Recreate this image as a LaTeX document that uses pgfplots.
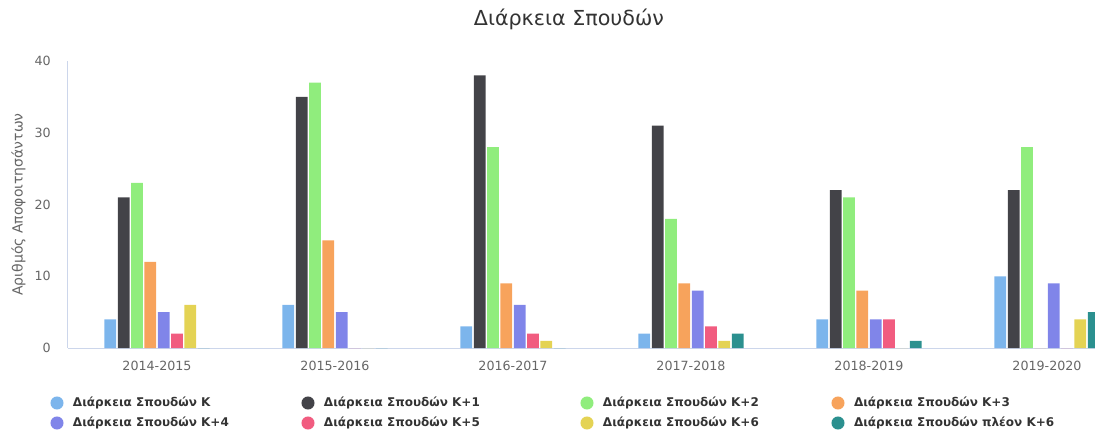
\documentclass[border=0pt]{standalone}
\usepackage{pgfplots}
\pgfplotsset{compat=1.18}
\usepackage{pgfplotstable}
\usepackage{fontspec}
\setmainfont{DejaVu Sans}
\definecolor{c1}{HTML}{7CB5EC}
\definecolor{c2}{HTML}{434348}
\definecolor{c3}{HTML}{90ED7D}
\definecolor{c4}{HTML}{F7A35C}
\definecolor{c5}{HTML}{8085E9}
\definecolor{c6}{HTML}{F15C80}
\definecolor{c7}{HTML}{E4D354}
\definecolor{c8}{HTML}{2B908F}
\definecolor{axisc}{HTML}{CCD6EB}
\definecolor{tthree}{HTML}{333333}
\definecolor{tsix}{HTML}{666666}

\pgfplotstableread{
x K K1 K2 K3 K4 K5 K6 K7
0 4 21 23 12 5 2 6 0
1 6 35 37 15 5 0 0 0
2 3 38 28 9 6 2 1 0
3 2 31 18 9 8 3 1 2
4 4 22 21 8 4 4 0 1
5 10 22 28 0 9 0 4 5
}\datatable

\pgfplotsset{/pgfplots/ybar legend/.style={/pgfplots/legend image code/.code={%
  \fill (4.9pt,0pt) circle (4.9pt);
  \path[fill=none, draw=none] (0pt,-7.5pt) rectangle (16.9pt,7.5pt);}}}

\begin{document}
\begin{tikzpicture}
\begin{axis}[
  at={(51pt,63pt)}, anchor=south west,
  scale only axis, width=801pt, height=215.25pt,
  xmin=-0.5, xmax=5.5, ymin=0, ymax=40,
  ybar=1.2pt, bar width=8.8pt,
  xtick={0,1,2,3,4,5},
  xticklabels={2014-2015,2015-2016,2016-2017,2017-2018,2018-2019,2019-2020},
  ytick={0,10,20,30,40},
  axis x line*=bottom, axis y line*=left,
  axis line style={draw=axisc, line width=0.75pt, -},
  major tick length=0pt, tick style={draw=none},
  /pgf/number format/assume math mode=true,
  xticklabel style={anchor=base, yshift=-16.5pt, inner sep=0pt, font=\fontsize{9.5}{11}\selectfont, text=tsix},
  yticklabel style={anchor=east, xshift=-12.75pt, inner sep=0pt, font=\fontsize{9.5}{11}\selectfont, text=tsix},
  ylabel={Αριθμός Αποφοιτησάντων},
  every axis y label/.style={at={(axis description cs:-0.0463,0.5)}, rotate=90, anchor=center, inner sep=0pt, font=\fontsize{10.5}{12}\selectfont, text=tsix},
  title={Διάρκεια Σπουδών},
  title style={at={(axis description cs:0.469,1)}, anchor=base, yshift=20.5pt, inner sep=0pt, font=\fontsize{15.5}{18}\selectfont, text=tthree},
  legend columns=4,
  legend cell align=left,
  legend style={at={(axis description cs:-0.01642,-0.1568)}, anchor=north west, draw=none, fill=none, inner sep=0pt, outer sep=0pt, column sep=0pt, row sep=0pt, nodes={inner sep=0pt, outer sep=0pt}, font=\bfseries\fontsize{9}{11}\selectfont, text=tthree},
]
\addplot[fill=c1, draw=none] table[x=x, y=K] {\datatable};
\addlegendentry{\makebox[171.35pt][l]{Διάρκεια Σπουδών K}}
\addplot[fill=c2, draw=none] table[x=x, y=K1] {\datatable};
\addlegendentry{\makebox[192.35pt][l]{Διάρκεια Σπουδών K+1}}
\addplot[fill=c3, draw=none] table[x=x, y=K2] {\datatable};
\addlegendentry{\makebox[171.35pt][l]{Διάρκεια Σπουδών K+2}}
\addplot[fill=c4, draw=none] table[x=x, y=K3] {\datatable};
\addlegendentry{Διάρκεια Σπουδών K+3}
\addplot[fill=c5, draw=none] table[x=x, y=K4] {\datatable};
\addlegendentry{\makebox[171.35pt][l]{Διάρκεια Σπουδών K+4}}
\addplot[fill=c6, draw=none] table[x=x, y=K5] {\datatable};
\addlegendentry{\makebox[192.35pt][l]{Διάρκεια Σπουδών K+5}}
\addplot[fill=c7, draw=none] table[x=x, y=K6] {\datatable};
\addlegendentry{\makebox[171.35pt][l]{Διάρκεια Σπουδών K+6}}
\addplot[fill=c8, draw=none] table[x=x, y=K7] {\datatable};
\addlegendentry{Διάρκεια Σπουδών πλέον K+6}
\end{axis}
\pgfresetboundingbox
\useasboundingbox (0,0) rectangle (821.25pt,324pt);
\end{tikzpicture}
\end{document}
